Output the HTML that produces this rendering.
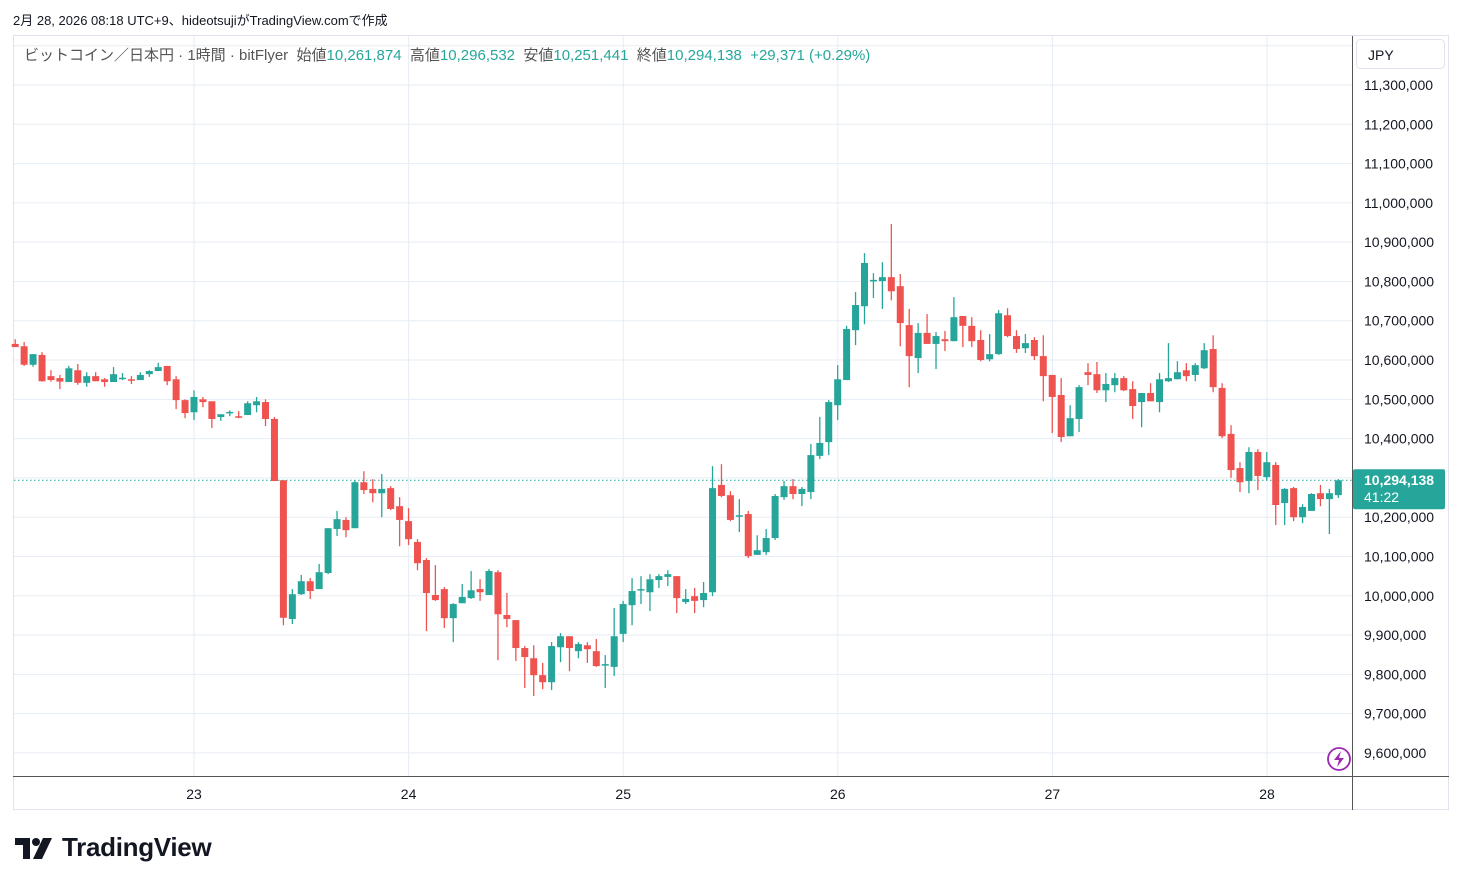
<!DOCTYPE html>
<html><head><meta charset="utf-8">
<style>
html,body{margin:0;padding:0;background:#fff;}
body{width:1462px;height:886px;overflow:hidden;position:relative;font-family:"Liberation Sans","Noto Sans CJK JP",sans-serif;}
#hdr{position:absolute;left:13px;top:10px;font-size:13px;color:#131722;}
#legend{position:absolute;left:24px;top:44px;font-size:15px;color:#555;white-space:nowrap;}
#legend .v{color:#26a69a;}
#logo{position:absolute;left:62px;top:832px;font-size:26px;font-weight:bold;color:#131722;letter-spacing:-0.3px;}
</style></head>
<body>
<div id="hdr">2月 28, 2026 08:18 UTC+9、hideotsujiがTradingView.comで作成</div>
<svg id="chart" width="1462" height="886" style="position:absolute;left:0;top:0"></svg>
<div id="legend">ビットコイン／日本円 · 1時間 · bitFlyer&nbsp;&nbsp;始値<span class="v">10,261,874</span>&nbsp;&nbsp;高値<span class="v">10,296,532</span>&nbsp;&nbsp;安値<span class="v">10,251,441</span>&nbsp;&nbsp;終値<span class="v">10,294,138</span>&nbsp;&nbsp;<span class="v">+29,371 (+0.29%)</span></div>
<svg width="40" height="24" style="position:absolute;left:15px;top:838px">
<path d="M0 0 H15 V21 H8 V7 H0 Z" fill="#131722"/><circle cx="21" cy="4" r="4" fill="#131722"/><path d="M28 0 H37 L27 21 H18 Z" fill="#131722"/></svg>
<div id="logo">TradingView</div>
<script>
const openK=[10641,10635,10588,10613,10559,10554,10544,10574,10542,10559,10551,10544,10554,10551,10549,10564,10572,10585,10551,10498,10467,10500,10495,10455,10467,10457,10460,10485,10493,10450,10294,9941,10004,10037,10017,10058,10170,10193,10172,10289,10272,10261,10274,10228,10190,10137,10091,10002,10017,9943,9981,9994,10017,10002,10060,9951,9938,9867,9841,9798,9780,9869,9897,9859,9874,9859,9825,9819,9903,9976,10014,10009,10040,10048,10050,9984,9999,9989,10009,10282,10256,10203,10208,10104,10111,10147,10251,10279,10259,10264,10356,10391,10485,10549,10676,10737,10803,10801,10811,10788,10689,10605,10669,10641,10653,10648,10712,10687,10651,10602,10615,10714,10661,10630,10651,10610,10562,10511,10406,10450,10569,10564,10523,10536,10554,10526,10493,10516,10493,10546,10551,10574,10562,10579,10628,10529,10412,10325,10292,10366,10302,10333,10236,10274,10200,10216,10261,10246,10256];
const highK=[10653,10646,10615,10620,10574,10562,10585,10590,10569,10569,10554,10582,10567,10559,10569,10574,10593,10585,10559,10500,10523,10506,10495,10462,10472,10470,10495,10506,10500,10455,10294,10017,10053,10045,10081,10172,10216,10200,10294,10317,10297,10310,10279,10251,10223,10144,10096,10078,10022,9981,10030,10063,10042,10068,10065,10007,9938,9872,9874,9829,9882,9905,9897,9882,9882,9890,9849,9969,9987,10045,10050,10055,10055,10065,10050,10017,10020,10035,10330,10335,10266,10246,10216,10154,10170,10259,10292,10297,10277,10386,10455,10498,10587,10687,10773,10872,10821,10849,10946,10819,10730,10694,10717,10671,10674,10760,10712,10709,10676,10666,10727,10732,10676,10666,10658,10663,10562,10554,10485,10536,10592,10595,10567,10567,10559,10546,10516,10541,10567,10643,10597,10592,10592,10643,10663,10541,10434,10340,10378,10373,10366,10340,10274,10277,10233,10261,10282,10272,10297];
const lowK=[10633,10585,10583,10545,10545,10526,10544,10537,10532,10546,10532,10544,10549,10539,10549,10557,10572,10536,10475,10452,10447,10480,10427,10445,10457,10452,10460,10467,10432,10292,9925,9928,10002,9992,10017,10055,10152,10149,10172,10259,10238,10200,10218,10126,10129,10065,9910,9987,9918,9882,9981,9992,9987,10002,9836,9920,9834,9765,9745,9762,9760,9831,9808,9841,9829,9819,9765,9796,9882,9925,9979,9961,10020,10025,9956,9979,9956,9971,9999,10251,10190,10162,10096,10104,10104,10142,10244,10246,10228,10246,10348,10358,10447,10549,10638,10691,10758,10730,10752,10635,10531,10567,10641,10577,10623,10648,10633,10633,10597,10597,10613,10658,10618,10618,10600,10495,10414,10391,10406,10417,10536,10516,10493,10518,10521,10450,10429,10495,10467,10544,10551,10546,10546,10577,10518,10401,10300,10264,10261,10269,10294,10180,10180,10190,10185,10216,10228,10157,10249];
const closeK=[10633,10588,10615,10546,10549,10545,10579,10542,10559,10546,10544,10564,10555,10550,10562,10572,10582,10546,10498,10465,10506,10493,10450,10462,10468,10456,10490,10495,10450,10292,9944,10004,10037,10012,10060,10172,10195,10167,10289,10269,10261,10272,10221,10193,10144,10083,10007,9989,9943,9979,9997,10014,10009,10063,9953,9941,9867,9844,9798,9780,9872,9897,9867,9877,9864,9821,9826,9897,9979,10012,10017,10042,10050,10055,9994,9992,9987,10007,10274,10254,10193,10205,10101,10116,10147,10254,10279,10259,10272,10358,10389,10493,10551,10679,10740,10847,10804,10811,10775,10694,10610,10669,10641,10661,10648,10709,10687,10648,10600,10615,10719,10661,10628,10643,10610,10559,10506,10404,10452,10531,10562,10523,10539,10554,10523,10483,10516,10495,10551,10554,10569,10559,10587,10625,10531,10406,10320,10289,10366,10305,10340,10231,10272,10200,10226,10259,10246,10261,10294];
const priceTicks=[11300000,11200000,11100000,11000000,10900000,10800000,10700000,10600000,10500000,10400000,10300000,10200000,10100000,10000000,9900000,9800000,9700000,9600000];
const dayLabels=["23","24","25","26","27","28"];
const lastPrice=10294138;

const NS="http://www.w3.org/2000/svg";
const svg=document.getElementById('chart');
function Y(p){return 85+(11300000-p)/100000*39.29;}
function X(i){return 194+(i-20)*8.94;}
function DX(d){return 194+d*214.6;}
function el(t,a,parent){const e=document.createElementNS(NS,t);for(const k in a)e.setAttribute(k,a[k]);(parent||svg).appendChild(e);return e;}

const frame=el('rect',{x:13.5,y:35.5,width:1435,height:774,fill:'none',stroke:'#e0e3eb'});


for(let p=11400000;p>=9500000;p-=100000){
  const y=Y(p); if(y<36||y>775)continue;
  const g=el('line',{x1:14,x2:1352,y1:y,y2:y,stroke:'#e6edf4','stroke-width':1});
  
  
}
dayLabels.forEach((d,k)=>{
  const x=DX(k);
  const g=el('line',{x1:x,x2:x,y1:36,y2:776,stroke:'#e6edf4','stroke-width':1});
  
  
  const t=el('text',{x:x,y:799,'font-size':14,fill:'#131722','text-anchor':'middle','font-family':'Liberation Sans, sans-serif'});
  t.textContent=d;
  
  
});
const pa=el('line',{x1:1352.5,x2:1352.5,y1:36,y2:810,stroke:'#555','stroke-width':1});


const ta=el('line',{x1:13,x2:1449,y1:776.5,y2:776.5,stroke:'#555','stroke-width':1});


priceTicks.forEach(p=>{
  const t=el('text',{x:1364,y:Y(p)+5,'font-size':14,fill:'#131722','font-family':'Liberation Sans, sans-serif'});
  t.textContent=p.toLocaleString('en-US');
  
  
});
const jb=el('rect',{x:1356.5,y:39.5,width:88,height:29,rx:4,fill:'#fff',stroke:'#e0e3eb'});


const jt=el('text',{x:1368,y:60,'font-size':14,fill:'#131722','font-family':'Liberation Sans, sans-serif'});
jt.textContent='JPY';


const ly=Y(lastPrice);
const ll=el('line',{x1:14,x2:1352,y1:ly,y2:ly,stroke:'#26a69a','stroke-width':1,'stroke-dasharray':'1.5 2.5'});


for(let i=0;i<openK.length;i++){
  const o=openK[i]*1000,h=highK[i]*1000,l=lowK[i]*1000,c=closeK[i]*1000;
  const col=c>=o?'#26a69a':'#ef5350';
  const x=X(i);
  const g=el('g',{});
  
  
  el('line',{x1:x,x2:x,y1:Y(h),y2:Y(l),stroke:col,'stroke-width':1.3},g);
  const top=Y(Math.max(o,c)),bot=Y(Math.min(o,c));
  el('rect',{x:x-3.5,y:top,width:7,height:Math.max(1.5,bot-top),fill:col},g);
}
const lb=el('rect',{x:1353,y:ly-11,width:92,height:40,fill:'#26a69a',rx:2});


const lt=el('text',{x:1364,y:ly+5,'font-size':14,fill:'#fff','font-weight':'bold','font-family':'Liberation Sans, sans-serif'});
lt.textContent=lastPrice.toLocaleString('en-US');


const lc=el('text',{x:1364,y:ly+22,'font-size':14,fill:'#fff','font-family':'Liberation Sans, sans-serif'});
lc.textContent='41:22';


const li=el('g',{});


el('circle',{cx:1339,cy:759,r:11,fill:'#fff',stroke:'#9c27b0','stroke-width':1.8},li);
el('path',{d:'M1341 751 L1334 760 L1339 760 L1337 767 L1344 758 L1339 758 Z',fill:'#9c27b0'},li);
</script>
</body></html>
